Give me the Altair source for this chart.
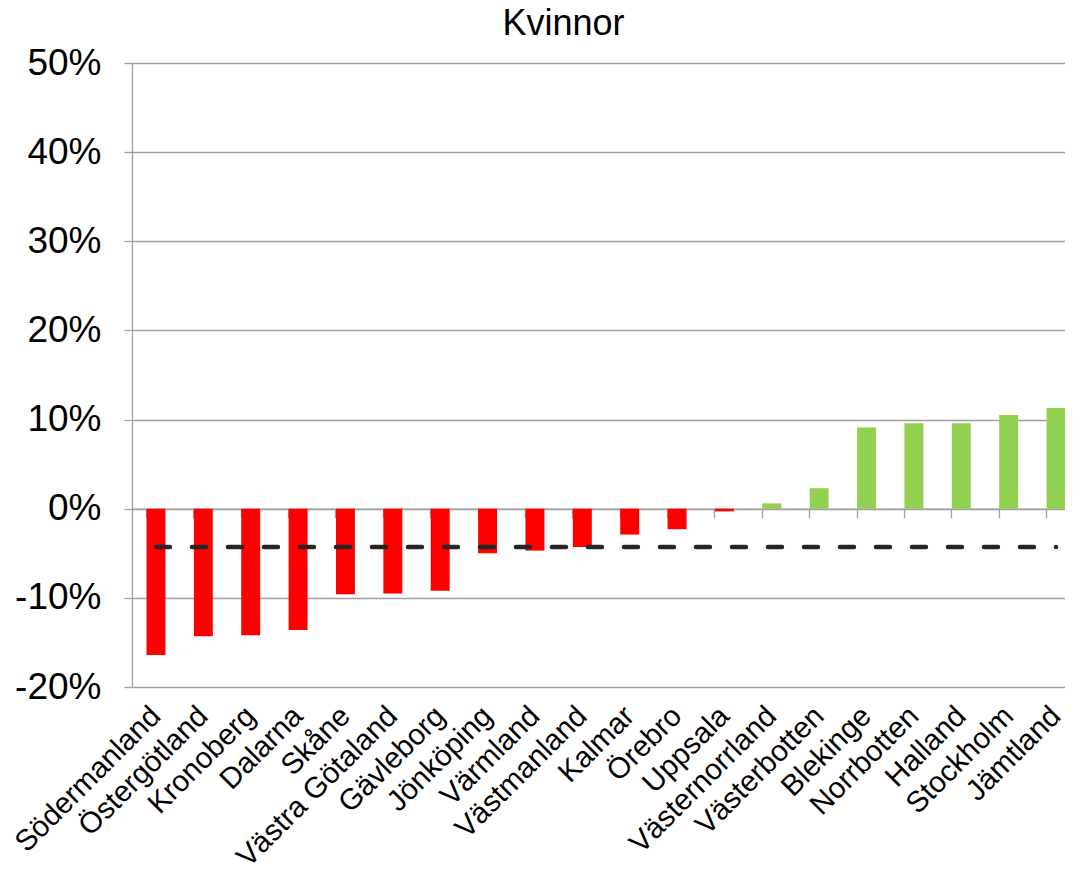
import altair as alt
import pandas as pd

regions = ["Södermanland", "Östergötland", "Kronoberg", "Dalarna", "Skåne",
           "Västra Götaland", "Gävleborg", "Jönköping", "Värmland", "Västmanland",
           "Kalmar", "Örebro", "Uppsala", "Västernorrland", "Västerbotten",
           "Blekinge", "Norrbotten", "Halland", "Stockholm", "Jämtland"]
values = [-0.164, -0.143, -0.142, -0.136, -0.096, -0.095, -0.092, -0.050, -0.047, -0.043,
          -0.029, -0.023, -0.003, 0.006, 0.023, 0.091, 0.096, 0.096, 0.105, 0.113]
average = [-0.043] * len(regions)

df = pd.DataFrame({
    "region": regions,
    "value": values,
    "avg": average,
    "color": ["#ff0000" if v < 0 else "#92d050" for v in values],
})

FONT = "Liberation Sans"
W, H = 933, 624
x_scale = alt.Scale(paddingInner=0.6, paddingOuter=0.306, range=[0, 948])
y_scale = alt.Scale(domain=[-0.2, 0.5], nice=False)
zero_offset = -H * 0.2 / 0.7

base = alt.Chart(df)

bars = base.mark_bar().encode(
    x=alt.X("region:N", sort=regions, scale=x_scale, title=None,
            axis=alt.Axis(orient="bottom", labelAngle=-45, labelAlign="right",
                          labelBaseline="middle", labelFontSize=29.5, labelFont=FONT,
                          labelColor="#000000", labelPadding=24, labelLimit=0,
                          ticks=False, domain=False, grid=False, labelOverlap=False)),
    y=alt.Y("value:Q", scale=y_scale, title=None,
            axis=alt.Axis(format=".0%", values=[-0.2, -0.1, 0, 0.1, 0.2, 0.3, 0.4, 0.5],
                          labelExpr="replace(datum.label, '\u2212', '-')",
                          labelFontSize=37, labelFont=FONT, labelColor="#000000",
                          labelPadding=23, tickSize=8, tickColor="#a0a0a0",
                          domainColor="#a0a0a0", gridColor="#a0a0a0",
                          gridWidth=1.3, domainWidth=1.3, tickWidth=1.3)),
    color=alt.Color("color:N", scale=None),
)

zero_axis = base.mark_bar(opacity=0).encode(
    x=alt.X("region:N", sort=regions, scale=x_scale, title=None,
            axis=alt.Axis(orient="bottom", offset=zero_offset, labels=False,
                          ticks=True, tickSize=9, bandPosition=0,
                          tickColor="#a0a0a0", domainColor="#a0a0a0",
                          tickWidth=1.3, domainWidth=1.5, grid=False)),
    y=alt.Y("value:Q", scale=y_scale),
)

avg_line = base.mark_line(color="#262626", strokeWidth=4.5, strokeDash=[14, 22],
                          strokeCap="round").encode(
    x=alt.X("region:N", sort=regions, scale=x_scale, axis=None),
    y=alt.Y("avg:Q", scale=y_scale),
)

chart = alt.layer(bars, zero_axis, avg_line).resolve_axis(x="independent").properties(
    width=W, height=H,
    title=alt.TitleParams("Kvinnor", fontSize=36, font=FONT, fontWeight="normal",
                          color="#000000", anchor="middle", dx=-35, offset=1),
    autosize=alt.AutoSizeParams(type="none"),
    padding={"left": 124, "top": 55, "right": 0, "bottom": 176},
).configure_view(stroke=None).configure_axis(gridColor="#a0a0a0")

chart.save("out.html", embed_options={"renderer": "svg", "actions": False})
